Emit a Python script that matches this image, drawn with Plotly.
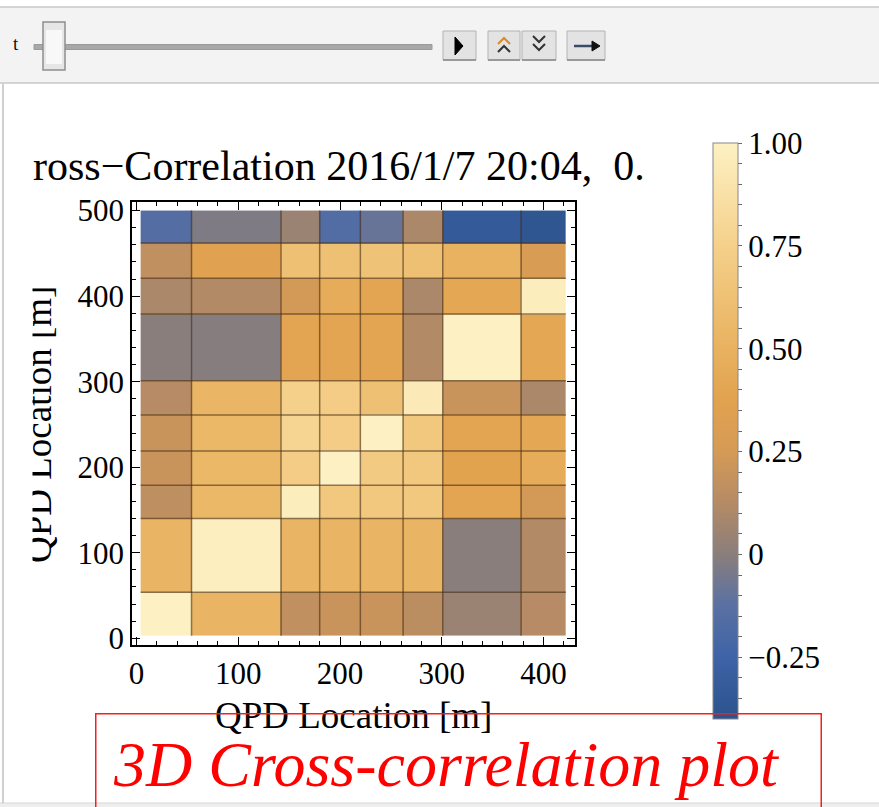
import plotly.graph_objects as go

# cell edges along each axis (QPD location, m)
x_edges = [4, 54, 142, 180, 220, 262, 301, 378, 422]
y_edges = [3, 54, 140, 179, 219, 261, 301, 379, 421, 462, 500]

# cross-correlation values, bottom row first
corr = [
    [1.00, 0.52, 0.17, 0.20, 0.20, 0.15, 0.05, 0.13],
    [0.52, 0.98, 0.52, 0.52, 0.52, 0.52, 0.00, 0.12],
    [0.16, 0.55, 0.97, 0.68, 0.68, 0.68, 0.40, 0.24],
    [0.20, 0.55, 0.72, 1.00, 0.70, 0.68, 0.38, 0.45],
    [0.20, 0.55, 0.78, 0.72, 1.00, 0.68, 0.40, 0.42],
    [0.13, 0.53, 0.75, 0.72, 0.62, 0.95, 0.20, 0.10],
    [0.00, -0.01, 0.40, 0.40, 0.40, 0.12, 1.00, 0.42],
    [0.10, 0.12, 0.24, 0.45, 0.40, 0.10, 0.42, 0.97],
    [0.17, 0.36, 0.62, 0.62, 0.64, 0.62, 0.50, 0.28],
    [-0.15, -0.03, 0.05, -0.16, -0.09, 0.10, -0.33, -0.37],
]

cbar_vals = [1.0, 0.75, 0.5, 0.25, 0.0, -0.25]
cbar_text = ["1.00", "0.75", "0.50", "0.25", "0", "\u22120.25"]

title_text = "ross\u2212Correlation 2016/1/7 20:04,  0."
axis_label = "QPD Location [m]"
note_text = "3D Cross-correlation plot"

SERIF = "Liberation Serif, Times New Roman, serif"
W, H = 879, 807
ML, MR, MT, MB = 132, 304, 202, 162
PW, PH = W - ML - MR, H - MT - MB


def px(x):
    return (x - ML) / PW


def py(y):
    return 1 - (y - MT) / PH


colorscale = [
    [0.0, "#2b538c"], [0.107, "#3e63a7"], [0.2, "#5b71a2"],
    [0.2857, "#8a7e7c"], [0.371, "#b38a66"], [0.464, "#d59a56"],
    [0.557, "#e2a34f"], [0.679, "#ebb868"], [0.821, "#f5d08a"],
    [1.0, "#fdf1c3"],
]

# minor ticks on colorbar every 0.05, labels only on majors
minor_vals = [round(-0.35 + 0.05 * i, 2) for i in range(28)]
cb_ticktext = []
for v in minor_vals:
    lab = ""
    for mv, mt in zip(cbar_vals, cbar_text):
        if abs(mv - v) < 1e-6:
            lab = mt
    cb_ticktext.append(lab)

fig = go.Figure()
fig.add_trace(go.Heatmap(
    x=x_edges, y=y_edges, z=corr,
    zmin=-0.4, zmax=1.0, colorscale=colorscale,
    colorbar=dict(
        thickness=25, len=576, lenmode="pixels",
        x=px(713), xanchor="left", y=py(143), yanchor="top",
        xpad=0, ypad=0, outlinewidth=1, outlinecolor="#888",
        ticks="outside", ticklen=4, tickcolor="#666", tickwidth=1,
        tickvals=minor_vals, ticktext=cb_ticktext,
        tickfont=dict(family=SERIF, size=31, color="black"),
    ),
    hoverinfo="skip",
))

# cell borders
gx, gy = [], []
for xb in x_edges[1:-1]:
    gx += [xb, xb, None]
    gy += [y_edges[0], y_edges[-1], None]
for yb in y_edges[1:-1]:
    gx += [x_edges[0], x_edges[-1], None]
    gy += [yb, yb, None]
fig.add_trace(go.Scatter(x=gx, y=gy, mode="lines", showlegend=False,
                         line=dict(color="rgba(70,45,20,0.6)", width=1.5),
                         hoverinfo="skip"))

axis_common = dict(
    showline=True, linecolor="black", linewidth=1.5, mirror="allticks",
    ticks="inside", ticklen=8, tickcolor="black", tickwidth=1,
    showgrid=False, zeroline=False,
    tickfont=dict(family=SERIF, size=31, color="black"),
    minor=dict(ticks="inside", ticklen=4, tickcolor="black", dtick=20),
)
fig.update_xaxes(range=[-4.5, 431], tickvals=[0, 100, 200, 300, 400], **axis_common)
fig.update_yaxes(range=[-7.8, 510], tickvals=[0, 100, 200, 300, 400, 500], **axis_common)

shapes = []
# control bar at top
shapes.append(dict(type="rect", xref="paper", yref="paper", x0=px(-2), x1=px(W + 2), y0=py(83), y1=py(7),
                   fillcolor="#f3f3f3", line=dict(color="#c9c9c9", width=1.5), layer="below"))
# panel borders
shapes.append(dict(type="line", xref="paper", yref="paper", x0=px(3), x1=px(3), y0=py(83), y1=py(803),
                   line=dict(color="#d0d0d0", width=2)))
shapes.append(dict(type="rect", xref="paper", yref="paper", x0=px(-2), x1=px(W + 2), y0=py(H + 2), y1=py(803),
                   fillcolor="#eeeeee", line=dict(color="#d6d6d6", width=1), layer="below"))
# slider track and handle
shapes.append(dict(type="rect", xref="paper", yref="paper", x0=px(34), x1=px(432), y0=py(49.5), y1=py(44.5),
                   fillcolor="#a8a8a8", line=dict(color="#9a9a9a", width=1)))
shapes.append(dict(type="rect", xref="paper", yref="paper", x0=px(43), x1=px(65), y0=py(70), y1=py(22),
                   fillcolor="#e6e6e6", line=dict(color="#8f8f8f", width=1.5)))
shapes.append(dict(type="rect", xref="paper", yref="paper", x0=px(46), x1=px(62), y0=py(64), y1=py(30),
                   fillcolor="#f8f8f8", line=dict(width=0)))
# buttons
for bx0, bx1 in [(443, 476), (488, 520), (522, 556), (567, 605)]:
    shapes.append(dict(type="rect", xref="paper", yref="paper", x0=px(bx0), x1=px(bx1), y0=py(60), y1=py(31),
                       fillcolor="#e3e3e3", line=dict(color="#b3b3b3", width=1)))
    shapes.append(dict(type="line", xref="paper", yref="paper", x0=px(bx0), x1=px(bx1), y0=py(60), y1=py(60),
                       line=dict(color="#999999", width=2)))


def path(points, close=True):
    s = "M " + " L ".join(f"{px(a)},{py(b)}" for a, b in points)
    return s + (" Z" if close else "")


# play triangle
shapes.append(dict(type="path", xref="paper", yref="paper", path=path([(455, 37), (463, 46), (455, 55)]),
                   fillcolor="black", line=dict(color="black", width=1)))
# double chevrons up / down
for yc, col in [(40, "#d98a2a"), (48, "#333333")]:
    shapes.append(dict(type="path", xref="paper", yref="paper",
                       path=path([(498, yc + 4), (504, yc - 2), (510, yc + 4)], close=False),
                       line=dict(color=col, width=2)))
for yc in [39, 47]:
    shapes.append(dict(type="path", xref="paper", yref="paper",
                       path=path([(533, yc - 3), (539, yc + 3), (545, yc - 3)], close=False),
                       line=dict(color="#333333", width=2)))
# right arrow
shapes.append(dict(type="line", xref="paper", yref="paper", x0=px(574), x1=px(594), y0=py(46), y1=py(46),
                   line=dict(color="#3b4a6b", width=2.5)))
shapes.append(dict(type="path", xref="paper", yref="paper", path=path([(592, 41), (600, 46), (592, 51)]),
                   fillcolor="#111111", line=dict(color="#111111", width=1)))

annotations = [
    dict(text="t", xref="paper", yref="paper", x=px(16), y=py(43), showarrow=False,
         xanchor="center", yanchor="middle", font=dict(family=SERIF, size=19, color="#111")),
    dict(text=title_text, xref="paper", yref="paper", x=px(31), y=py(166), xanchor="left", yanchor="middle",
         showarrow=False, font=dict(family=SERIF, size=42, color="black")),
    dict(text=axis_label, xref="paper", yref="paper", x=px(353), y=py(715), xanchor="center", yanchor="middle",
         showarrow=False, font=dict(family=SERIF, size=37, color="black")),
    dict(text=axis_label, xref="paper", yref="paper", x=px(38), y=py(425), xanchor="center", yanchor="middle",
         textangle=-90, showarrow=False, font=dict(family=SERIF, size=37, color="black")),
    # panel clips the left side of the content
    dict(text=" ", xref="paper", yref="paper", x=px(5), y=py(84), xanchor="left", yanchor="top",
         width=26, height=716, bgcolor="white", borderpad=0, showarrow=False),
    # red callout box and text
    dict(text=" ", xref="paper", yref="paper", x=px(95), y=py(713), xanchor="left", yanchor="top",
         width=724, height=140, bordercolor="#ff1a1a", borderwidth=1.5, borderpad=0, showarrow=False),
    dict(text="<i>" + note_text + "</i>", xref="paper", yref="paper", x=px(446), y=py(764),
         xanchor="center", yanchor="middle", showarrow=False,
         font=dict(family=SERIF, size=64, color="#ff0000")),
]

fig.update_layout(
    width=W, height=H,
    margin=dict(l=ML, r=MR, t=MT, b=MB),
    paper_bgcolor="white", plot_bgcolor="white",
    shapes=shapes, annotations=annotations,
    showlegend=False,
)

fig.write_html("out.html", config={"displayModeBar": False},
               post_script="document.body.style.margin='0';document.body.style.overflow='hidden';")
